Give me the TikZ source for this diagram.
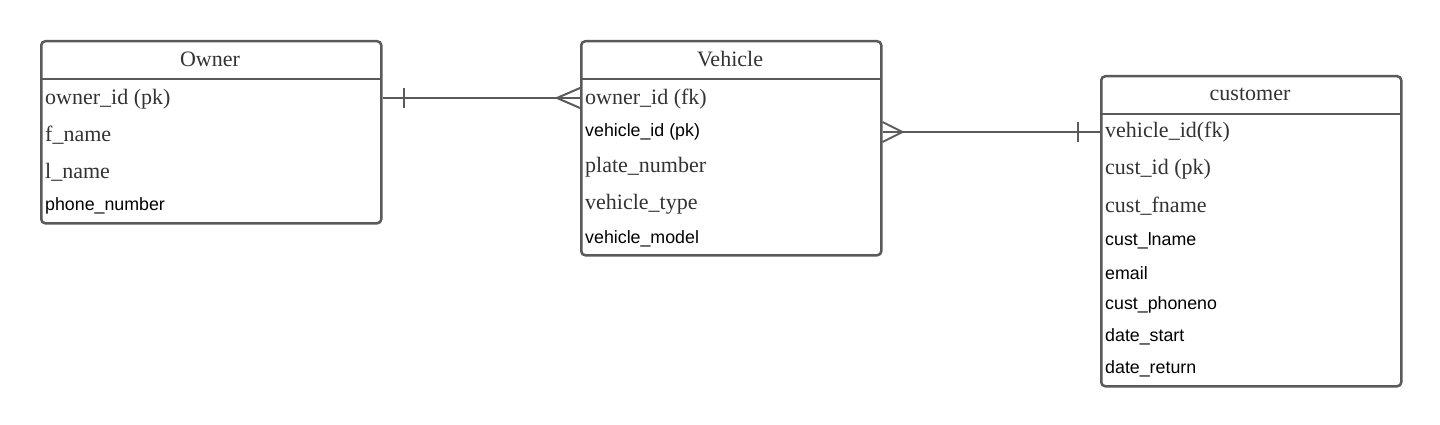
\documentclass[tikz,border=0pt]{standalone}
\usepackage{fontspec}
\setmainfont{Liberation Serif}
\newfontfamily\sansf{Liberation Sans}
\usetikzlibrary{calc}
\definecolor{boxgray}{HTML}{5A5A5A}
\definecolor{txtgray}{HTML}{333333}
\begin{document}
\begin{tikzpicture}[x=1pt,y=-1pt,
  entity/.style={draw=boxgray, line width=2.5pt, rounded corners=4pt, inner sep=0pt, anchor=north west, fill=white},
  hdr/.style={draw=boxgray, line width=2.5pt},
  ttl/.style={font=\fontsize{22}{26}\selectfont, text=txtgray, inner sep=0pt},
  srow/.style={font=\fontsize{22}{26}\selectfont, text=txtgray, anchor=west, inner sep=0pt},
  arow/.style={font=\sansf\fontsize{17.8}{21}\selectfont, text=black, anchor=west, inner sep=0pt},
  conn/.style={draw=boxgray, line width=2pt}
]
\useasboundingbox (0,0) rectangle (1440,425);

% Owner
\node[entity, minimum width=340pt, minimum height=182pt] (owner) at (40,40) {};
\draw[hdr] (40,79) -- (380,79);
\node[ttl] (ownerT) at (210,59) {Owner};
\node[srow] (o1) at (45,99) {owner\_id (pk)};
\node[srow] (o2) at (45,135) {f\_name};
\node[srow] (o3) at (45,172) {l\_name};
\node[arow] (o4) at (45,206) {phone\_number};

% Vehicle
\node[entity, minimum width=300pt, minimum height=214pt] (vehicle) at (580,40) {};
\draw[hdr] (580,79) -- (880,79);
\node[ttl] (vehicleT) at (730,59) {Vehicle};
\node[srow] (v1) at (585,99) {owner\_id (fk)};
\node[arow] (v2) at (585,132) {vehicle\_id (pk)};
\node[srow] (v3) at (585,167) {plate\_number};
\node[srow] (v4) at (585,204) {vehicle\_type};
\node[arow] (v5) at (585,239) {vehicle\_model};

% customer
\node[entity, minimum width=300pt, minimum height=310pt] (customer) at (1100,75) {};
\draw[hdr] (1100,114) -- (1400,114);
\node[ttl] (customerT) at (1250,94) {customer};
\node[srow] (c1) at (1105,132) {vehicle\_id(fk)};
\node[srow] (c2) at (1105,169) {cust\_id (pk)};
\node[srow] (c3) at (1105,206) {cust\_fname};
\node[arow] (c4) at (1105,241) {cust\_lname};
\node[arow] (c5) at (1105,273) {email};
\node[arow] (c6) at (1105,305) {cust\_phoneno};
\node[arow] (c7) at (1105,337) {date\_start};
\node[arow] (c8) at (1105,369) {date\_return};

% Owner -- Vehicle (one to many)
\coordinate (a1) at ($(owner.east |- o1)+(0,-1)$);
\coordinate (a2) at ($(vehicle.west |- o1)+(0,-1)$);
\draw[conn] (a1) -- (a2);
\draw[conn] ($(a1)+(21,-10)$) -- ($(a1)+(21,10)$);
\draw[conn] ($(a2)+(0,-10)$) -- ($(a2)+(-23,0)$) -- ($(a2)+(0,10)$);

% Vehicle -- customer (many to one)
\coordinate (b1) at ($(vehicle.east |- c1)+(0,0)$);
\coordinate (b2) at ($(customer.west |- c1)+(0,0)$);
\draw[conn] (b1) -- (b2);
\draw[conn] ($(b1)+(0,-10)$) -- ($(b1)+(20,0)$) -- ($(b1)+(0,10)$);
\draw[conn] ($(b2)+(-22,-10)$) -- ($(b2)+(-22,10)$);
\end{tikzpicture}
\end{document}
